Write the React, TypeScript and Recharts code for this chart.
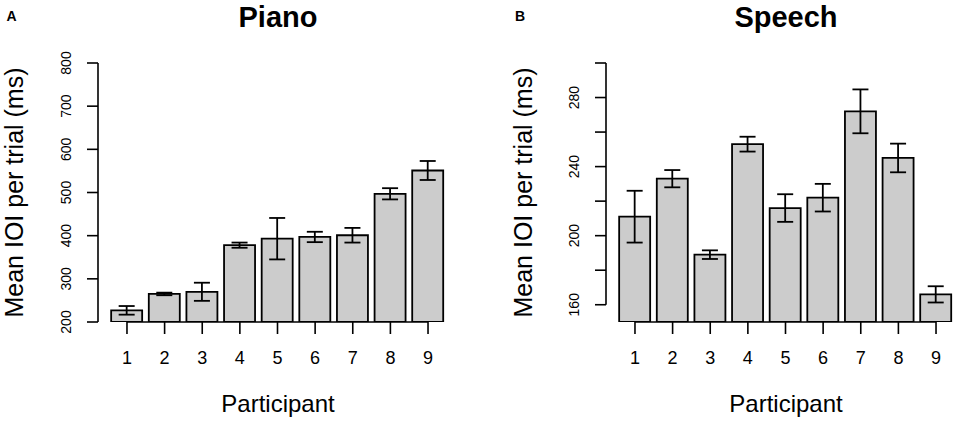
import React from 'react';
import { BarChart, Bar, XAxis, YAxis, ErrorBar, ReferenceLine } from 'recharts';

// Participant numbers on the x axis
const participants = [1, 2, 3, 4, 5, 6, 7, 8, 9];

// Panel A: piano, mean IOI per trial (ms) and error half-widths
const pianoMeans = [227, 265, 270, 378, 393, 397, 401, 497, 551];
const pianoErrors = [10, 3, 21, 6, 48, 12, 17, 13, 22];

// Panel B: speech
const speechMeans = [211, 233, 189, 253, 216, 222, 272, 245, 166];
const speechErrors = [15, 5, 2.5, 4.3, 8, 8, 12.7, 8.3, 4.7];

const pianoTicks = [200, 300, 400, 500, 600, 700, 800];
const pianoTickLabels = [200, 300, 400, 500, 600, 700, 800];
const speechTicks = [160, 180, 200, 220, 240, 260, 280, 300];
const speechTickLabels = [160, 200, 240, 280];

const xDomain: [number, number] = [0.23, 9.77];
const FONT = '"Liberation Sans", Arial, Helvetica, sans-serif';

function makeRows(means: number[], errors: number[]) {
  return participants.map((p, i) => ({ p, v: means[i], e: errors[i] }));
}

const YTick = (props: any) => {
  const { x, y, payload, labels } = props;
  if (!labels.includes(payload.value)) return <g />;
  return (
    <text
      x={x}
      y={y}
      transform={`rotate(-90, ${x}, ${y})`}
      textAnchor="middle"
      fontSize={14}
      fontFamily={FONT}
      fill="#000"
    >
      {payload.value}
    </text>
  );
};

const XTick = (props: any) => {
  const { x, y, payload } = props;
  return (
    <text x={x} y={y} dy={28} textAnchor="middle" fontSize={18} fontFamily={FONT} fill="#000">
      {payload.value}
    </text>
  );
};

interface PanelProps {
  means: number[];
  errors: number[];
  domain: [number, number];
  ticks: number[];
  tickLabels: number[];
  axisMin: number;
  axisMax: number;
  yAxisWidth: number;
  width: number;
  marginRight: number;
}

function Panel({ means, errors, domain, ticks, tickLabels, axisMin, axisMax, yAxisWidth, width, marginRight }: PanelProps) {
  const rows = makeRows(means, errors);
  return (
    <BarChart
      width={width}
      height={422}
      data={rows}
      margin={{ top: 63, right: marginRight, bottom: 0, left: 0 }}
    >
      <XAxis
        type="number"
        dataKey="p"
        domain={xDomain}
        ticks={participants}
        allowDataOverflow
        axisLine={false}
        tickLine={{ stroke: '#000', strokeWidth: 1.6 }}
        tickSize={12}
        tickMargin={2}
        tick={<XTick />}
        height={100}
        interval={0}
      />
      <YAxis
        type="number"
        domain={domain}
        ticks={ticks}
        allowDataOverflow
        axisLine={false}
        tickLine={{ stroke: '#000', strokeWidth: 1.6 }}
        tickSize={11}
        tickMargin={16}
        tick={<YTick labels={tickLabels} />}
        width={yAxisWidth}
        interval={0}
      />
      <Bar
        dataKey="v"
        barSize={31}
        fill="#CCCCCC"
        stroke="#000"
        strokeWidth={1.8}
        isAnimationActive={false}
      >
        <ErrorBar dataKey="e" width={8} stroke="#000" strokeWidth={1.8} direction="y" />
      </Bar>
      <ReferenceLine
        segment={[{ x: xDomain[0], y: axisMin }, { x: xDomain[0], y: axisMax }]}
        stroke="#000"
        strokeWidth={1.6}
        ifOverflow="visible"
      />
      <ReferenceLine
        segment={[{ x: participants[0], y: domain[0] }, { x: participants[participants.length - 1], y: domain[0] }]}
        stroke="#000"
        strokeWidth={1.6}
        ifOverflow="visible"
      />
    </BarChart>
  );
}

export default function App() {
  return (
    <div
      style={{
        position: 'absolute',
        left: 0,
        top: 0,
        width: 957,
        height: 422,
        overflow: 'hidden',
        background: '#fff',
        fontFamily: FONT,
      }}
    >
      <div style={{ position: 'absolute', left: 0, top: 0 }}>
        <Panel
          means={pianoMeans}
          errors={pianoErrors}
          domain={[200, 800]}
          ticks={pianoTicks}
          tickLabels={pianoTickLabels}
          axisMin={200}
          axisMax={800}
          yAxisWidth={98}
          width={480}
          marginRight={23}
        />
      </div>
      <div style={{ position: 'absolute', left: 490, top: 0 }}>
        <Panel
          means={speechMeans}
          errors={speechErrors}
          domain={[150, 300]}
          ticks={speechTicks}
          tickLabels={speechTickLabels}
          axisMin={160}
          axisMax={300}
          yAxisWidth={116}
          width={490}
          marginRight={15}
        />
      </div>
      <svg
        width={957}
        height={422}
        style={{ position: 'absolute', left: 0, top: 0, pointerEvents: 'none' }}
        fontFamily={FONT}
      >
        <text x={6.5} y={20.5} fontSize={14} fontWeight="bold">A</text>
        <text x={515} y={20.5} fontSize={14} fontWeight="bold">B</text>
        <text x={278} y={26.5} fontSize={29} fontWeight="bold" textAnchor="middle">Piano</text>
        <text x={786} y={26.5} fontSize={29} fontWeight="bold" textAnchor="middle">Speech</text>
        <text x={278} y={411.5} fontSize={24} textAnchor="middle">Participant</text>
        <text x={786} y={411.5} fontSize={24} textAnchor="middle">Participant</text>
        <text x={22.5} y={192.5} fontSize={25} textAnchor="middle" transform="rotate(-90, 22.5, 192.5)">
          Mean IOI per trial (ms)
        </text>
        <text x={531.5} y={192.5} fontSize={25} textAnchor="middle" transform="rotate(-90, 531.5, 192.5)">
          Mean IOI per trial (ms)
        </text>
      </svg>
    </div>
  );
}
